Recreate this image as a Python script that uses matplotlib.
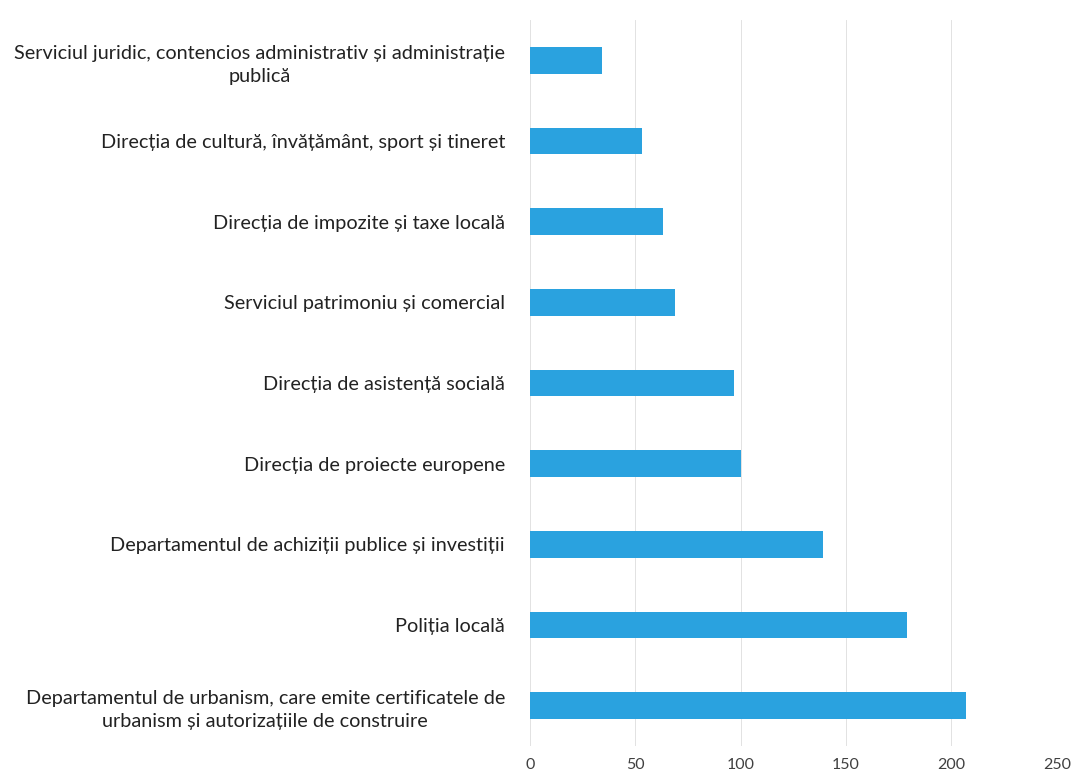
import matplotlib.pyplot as plt

# categories from bottom to top (as drawn by barh)
categories = [
    "Departamentul de urbanism, care emite certificatele de\nurbanism și autorizațiile de construire",
    "Poliția locală",
    "Departamentul de achiziții publice și investiții",
    "Direcția de proiecte europene",
    "Direcția de asistență socială",
    "Serviciul patrimoniu și comercial",
    "Direcția de impozite și taxe locală",
    "Direcția de cultură, învățământ, sport și tineret",
    "Serviciul juridic, contencios administrativ și administrație\npublică",
]
values = [207, 179, 139, 100, 97, 69, 63, 53, 34]
x_ticks = [0, 50, 100, 150, 200, 250]

plt.rcParams['font.family'] = ['Lato', 'DejaVu Sans']

fig = plt.figure(figsize=(10.74, 7.77), dpi=100)
ax = fig.add_axes([0.4935, 0.040, 0.4905, 0.934])

ypos = range(len(categories))
ax.barh(ypos, values, height=0.33, color='#2AA2DF', zorder=3)

ax.set_xlim(0, 250)
ax.set_ylim(-0.5, len(categories) - 0.5)
ax.set_xticks(x_ticks)
ax.set_xticklabels([str(t) for t in x_ticks], fontsize=11.5, color='#404040')
ax.set_yticks(list(ypos))
ax.set_yticklabels(categories, fontsize=14.3, color='#222222',
                   multialignment='center', linespacing=1.45)

ax.tick_params(axis='both', length=0)
ax.tick_params(axis='x', pad=9)
ax.tick_params(axis='y', pad=18)
ax.grid(axis='x', color='#e2e2e2', linewidth=0.7, zorder=0)
for s in ax.spines.values():
    s.set_visible(False)

plt.savefig("out.png", dpi=100)
plt.close()
